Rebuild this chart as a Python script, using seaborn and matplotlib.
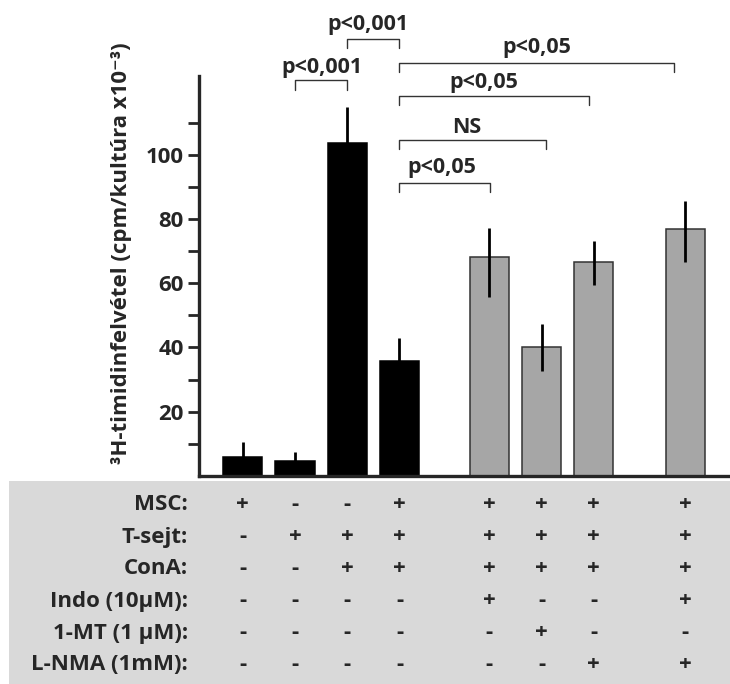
import numpy as np
import pandas as pd
import seaborn as sns
import matplotlib.pyplot as plt
from matplotlib.patches import Rectangle

# data
values = [5.9, 4.7, 103.7, 35.8, 68.2, 40.2, 66.7, 76.9]
err_lo = [4.7, 2.8, 11.3, 7.2, 12.4, 7.5, 7.2, 10.2]
err_hi = [4.7, 2.8, 11.3, 7.2, 9.1, 7.2, 6.5, 8.8]
groups = ['kontroll'] * 4 + ['gátlás'] * 4

row_labels = ['MSC:', 'T-sejt:', 'ConA:', 'Indo (10µM):', '1-MT (1 µM):', 'L-NMA (1mM):']
row_signs = [
    ['+', '-', '-', '+', '+', '+', '+', '+'],
    ['-', '+', '+', '+', '+', '+', '+', '+'],
    ['-', '-', '+', '+', '+', '+', '+', '+'],
    ['-', '-', '-', '-', '+', '-', '-', '+'],
    ['-', '-', '-', '-', '-', '+', '-', '-'],
    ['-', '-', '-', '-', '-', '-', '+', '+'],
]

# significance brackets: (x left, x right, bracket top, label, label x, label y)
brackets = [
    (1.0, 2.0, 123.1, 'p<0,001', 1.52, 127.0),
    (2.0, 3.0, 136.1, 'p<0,001', 2.40, 140.5),
    (3.0, 4.73, 91.3, 'p<0,05', 3.82, 96.0),
    (3.0, 5.80, 104.7, 'NS', 4.29, 108.4),
    (3.0, 6.62, 118.4, 'p<0,05', 4.61, 122.4),
    (3.0, 8.25, 128.7, 'p<0,05', 5.63, 133.3),
]

# layout: bar slots (gaps between the groups)
x_slots = [0, 1, 2, 3, 4.72, 5.72, 6.72, 8.47]

df = pd.DataFrame({'pos': x_slots, 'value': values, 'group': groups})

sns.set_style('ticks')
plt.rcParams['font.family'] = ['Open Sans', 'DejaVu Sans']
W = 'bold'

fig = plt.figure(figsize=(7.3, 6.84), dpi=100)
ax = fig.add_axes([199 / 730, 1 - 476 / 684, 1 - 199 / 730, 400 / 684])

# grey table background
fig.patches.append(Rectangle((9 / 730, 0), 1 - 9 / 730, (684 - 481) / 684,
                             transform=fig.transFigure, facecolor='#d9d9d9',
                             edgecolor='none', zorder=-1))

sns.barplot(data=df, x='pos', y='value', hue='group',
            palette={'kontroll': 'black', 'gátlás': '#a6a6a6'},
            native_scale=True, dodge=False, width=0.75, saturation=1,
            legend=False, ax=ax)
for p, g in zip(sorted(ax.patches, key=lambda r: r.get_x()), groups):
    p.set_edgecolor('black' if g == 'kontroll' else '#333333')
    p.set_linewidth(1.1)

ax.errorbar(x_slots, values, yerr=[err_lo, err_hi], fmt='none',
            ecolor='black', elinewidth=2.0, capsize=0, zorder=5)

for x1, x2, y, lab, tx, ty in brackets:
    ax.plot([x1, x1, x2, x2], [y - 2.9, y, y, y - 2.9], color='#333333',
            lw=1.0, clip_on=False)
    ax.text(tx, ty, lab, ha='center', va='center', fontsize=15.5,
            fontweight=W, clip_on=False)

ax.set_xlim(-0.84, 9.33)
ax.set_ylim(0, 124.5)
ax.set_yticks([20, 40, 60, 80, 100])
ax.set_yticks([10, 30, 50, 70, 90, 110], minor=True)
ax.tick_params(axis='y', which='both', length=8, width=2, labelsize=16, pad=3)
ax.tick_params(axis='x', length=0, labelbottom=False)
ax.set_xlabel('')
ax.set_ylabel('')
for lab in ax.get_yticklabels():
    lab.set_fontweight(W)
sns.despine(ax=ax)
ax.spines['left'].set_linewidth(2.4)
ax.spines['bottom'].set_linewidth(2.4)

fig.text(121 / 730, 1 - 253 / 684, '³H-timidinfelvétel (cpm/kultúra x10⁻³)',
         rotation=90, ha='center', va='center', fontsize=16, fontweight=W)

# table rows under the chart
row_y = [505, 537, 568, 601, 633, 665]
for lab, signs, yp in zip(row_labels, row_signs, row_y):
    yf = 1 - yp / 684
    fig.text(188 / 730, yf, lab, ha='right', va='center', fontsize=16,
             fontweight=W)
    for xs, s in zip(x_slots, signs):
        xf = fig.transFigure.inverted().transform(ax.transData.transform((xs, 0)))[0]
        fig.text(xf, yf, s, ha='center', va='center', fontsize=16,
                 fontweight=W)

fig.savefig('out.png', dpi=100)
